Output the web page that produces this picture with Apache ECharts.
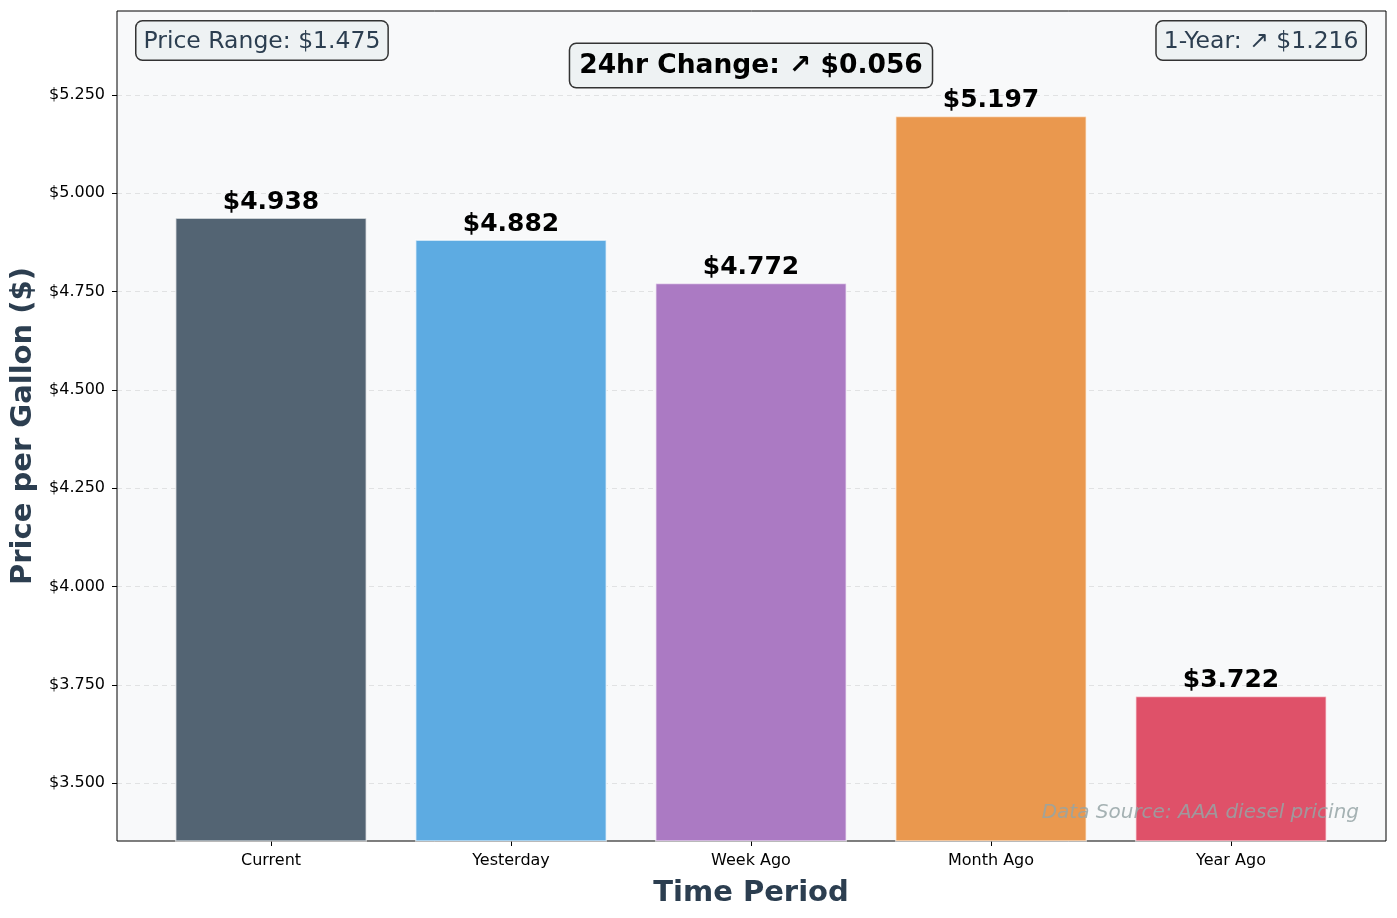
<!DOCTYPE html>
<html>
<head>
<meta charset="utf-8">
<title>Diesel price per gallon</title>
<script src="https://cdn.jsdelivr.net/npm/echarts@6/dist/echarts.min.js"></script>
<style>
  html, body { margin: 0; padding: 0; background: #fff; }
  #box { width: 1397px; height: 918px; }
</style>
</head>
<body>
<div id="box"></div>
<script>
// data
var categories = ['Current', 'Yesterday', 'Week Ago', 'Month Ago', 'Year Ago'];
var prices = [4.938, 4.882, 4.772, 5.197, 3.722];
var barColors = ['#536473', '#5dabe2', '#ab7ac3', '#ea984e', '#df5169'];
var yTicks = [3.5, 3.75, 4.0, 4.25, 4.5, 4.75, 5.0, 5.25];
var yMin = 3.353, yMax = 5.463;

var font = 'DejaVu Sans';
var mChart = echarts.init(document.getElementById('box'), null, { renderer: 'canvas' });

var boxStyle = {
  fill: '#eef2f3',
  stroke: '#333',
  lineWidth: 1.5
};

var option = {
  animation: false,
  textStyle: { fontFamily: font },
  grid: [
    // outer frame + y axis
    { left: 117, top: 11, right: 11, bottom: 77, show: true,
      backgroundColor: '#f8f9fa', borderColor: '#000', borderWidth: 1 },
    // bars, narrower so the categories are spaced like the original
    { left: 151, top: 11, right: 46, bottom: 77 }
  ],
  xAxis: [
    { gridIndex: 0, type: 'value', show: false, min: 0, max: 1 },
    {
      gridIndex: 1, type: 'category', data: categories,
      axisLine: { show: false },
      axisTick: { show: true, alignWithLabel: true, length: 5, lineStyle: { color: '#000', width: 1 } },
      axisLabel: { color: '#000', fontSize: 16, margin: 12, fontFamily: font },
      name: 'Time Period', nameLocation: 'middle', nameGap: 38,
      nameTextStyle: { color: '#2c3e50', fontSize: 29, fontWeight: 'bold', fontFamily: font }
    }
  ],
  yAxis: [
    {
      gridIndex: 0, type: 'value', min: yMin, max: yMax,
      axisLine: { show: false },
      axisTick: { show: true, length: 5, customValues: yTicks, lineStyle: { color: '#000', width: 1 } },
      axisLabel: {
        customValues: yTicks, color: '#000', fontSize: 16, margin: 12, fontFamily: font,
        formatter: function (v) { return '$' + v.toFixed(3); }
      },
      splitLine: { show: true, lineStyle: { color: 'rgba(0,0,0,0.09)', type: [5, 4], width: 1 } },
      name: 'Price per Gallon ($)', nameLocation: 'middle', nameGap: 77,
      nameTextStyle: { color: '#2c3e50', fontSize: 29, fontWeight: 'bold', fontFamily: font }
    },
    { gridIndex: 1, type: 'value', min: yMin, max: yMax, show: false }
  ],
  series: [{
    type: 'bar',
    xAxisIndex: 1, yAxisIndex: 1,
    barWidth: '80%',
    data: prices.map(function (v, i) {
      return { value: v, itemStyle: { color: barColors[i] } };
    }),
    itemStyle: { borderColor: 'rgba(255,255,255,0.6)', borderWidth: 1.5 },
    label: {
      show: true, position: 'top', distance: 3,
      color: '#000', fontSize: 25, fontWeight: 'bold', fontFamily: font,
      formatter: function (p) { return '$' + p.value.toFixed(3); }
    }
  }],
  graphic: [
    {
      type: 'text', left: 135, top: 20, z: 100,
      style: {
        text: 'Price Range: $1.475', font: '23.5px "DejaVu Sans"', fill: '#2c3e50',
        backgroundColor: boxStyle.fill, borderColor: boxStyle.stroke, borderWidth: 1.5,
        borderRadius: 6, padding: [8, 7, 6, 7]
      }
    },
    {
      type: 'text', right: 30, top: 20, z: 100,
      style: {
        text: '1-Year: ↗ $1.216', font: '23.5px "DejaVu Sans"', fill: '#2c3e50',
        backgroundColor: boxStyle.fill, borderColor: boxStyle.stroke, borderWidth: 1.5,
        borderRadius: 6, padding: [8, 7, 6, 7]
      }
    },
    {
      type: 'text', x: 751, y: 44, z: 100,
      style: {
        text: '24hr Change: ↗ $0.056', font: 'bold 26.5px "DejaVu Sans"', fill: '#000',
        align: 'center',
        backgroundColor: boxStyle.fill, borderColor: boxStyle.stroke, borderWidth: 1.5,
        borderRadius: 6, padding: [9, 9, 7, 9]
      }
    },
    {
      type: 'text', right: 38, top: 803, z: 100,
      style: {
        text: 'Data Source: AAA diesel pricing', font: 'italic 20px "DejaVu Sans"',
        fill: 'rgba(149,165,166,0.85)'
      }
    }
  ]
};

mChart.setOption(option);
</script>
</body>
</html>
